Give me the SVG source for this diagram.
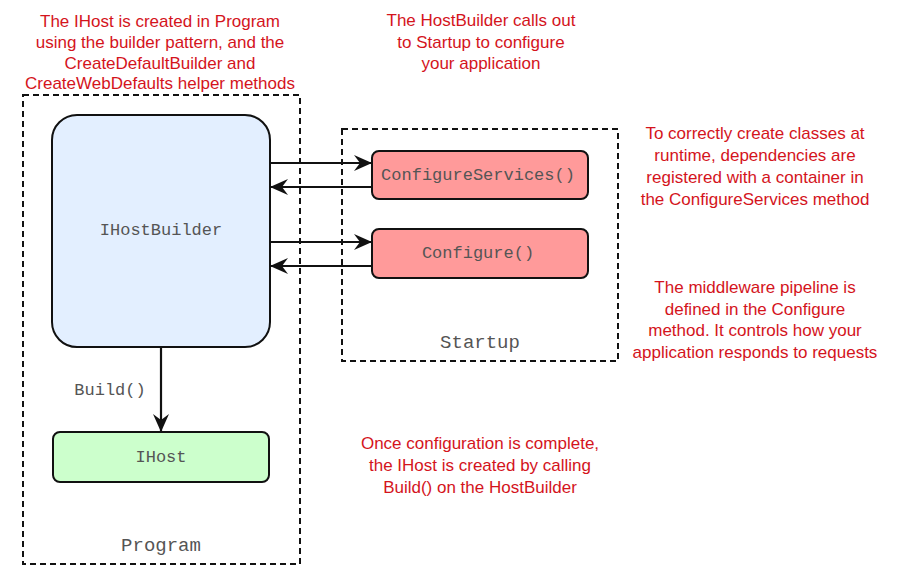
<svg xmlns="http://www.w3.org/2000/svg" width="908" height="576" viewBox="0 0 908 576">
<style>
.note{font-family:"Liberation Sans",Arial,sans-serif;font-size:17px;fill:#d4141c;text-anchor:middle}
.mono{font-family:"Liberation Mono","Courier New",monospace;font-size:17px;fill:#555;text-anchor:middle}
.big{font-size:19px}
.dash{fill:none;stroke:#111;stroke-width:2;stroke-dasharray:6 4}
.node{stroke:#111;stroke-width:2}
.edge{stroke:#111;stroke-width:2.2;fill:none}
</style>
<defs>
<marker id="ah" viewBox="0 0 18 16" refX="17" refY="8" markerWidth="18" markerHeight="16" markerUnits="userSpaceOnUse" orient="auto">
<path d="M0,0 L18,8 L0,16 L6,8 Z" fill="#111"/>
</marker>
</defs>
<rect width="908" height="576" fill="#fff"/>
<g id="program">
<rect class="dash" x="23" y="95" width="277" height="469"/>
<text class="mono big" x="161" y="551">Program</text>
</g>
<g id="startup">
<rect class="dash" x="342" y="129" width="276" height="232"/>
<text class="mono big" x="480" y="348">Startup</text>
</g>
<g id="ihostbuilder">
<rect class="node" x="52" y="115" width="218" height="232" rx="25" fill="#e3efff"/>
<text class="mono" x="161" y="235">IHostBuilder</text>
</g>
<g id="configureservices">
<rect class="node" x="372" y="151" width="216" height="48" rx="7" fill="#ff9a9a"/>
<text class="mono" x="478" y="180">ConfigureServices()</text>
</g>
<g id="configure">
<rect class="node" x="372" y="229" width="216" height="49" rx="7" fill="#ff9a9a"/>
<text class="mono" x="478" y="258">Configure()</text>
</g>
<g id="ihost">
<rect class="node" x="53" y="432" width="216" height="50" rx="7" fill="#ccffcc"/>
<text class="mono" x="161" y="462">IHost</text>
</g>
<g id="connectors">
<line class="edge" x1="270" y1="163" x2="371" y2="163" marker-end="url(#ah)"/>
<line class="edge" x1="372" y1="187" x2="271" y2="187" marker-end="url(#ah)"/>
<line class="edge" x1="270" y1="242" x2="371" y2="242" marker-end="url(#ah)"/>
<line class="edge" x1="372" y1="266" x2="271" y2="266" marker-end="url(#ah)"/>
<line class="edge" x1="161" y1="348" x2="161" y2="431" marker-end="url(#ah)"/>
<text class="mono" x="110" y="395">Build()</text>
</g>
<g id="notes">
<text class="note" x="160" y="27">The IHost is created in Program</text>
<text class="note" x="160" y="48">using the builder pattern, and the</text>
<text class="note" x="160" y="69">CreateDefaultBuilder and</text>
<text class="note" x="160" y="89">CreateWebDefaults helper methods</text>
<text class="note" x="481" y="26">The HostBuilder calls out</text>
<text class="note" x="481" y="48">to Startup to configure</text>
<text class="note" x="481" y="69">your application</text>
<text class="note" x="755" y="139">To correctly create classes at</text>
<text class="note" x="755" y="161">runtime, dependencies are</text>
<text class="note" x="755" y="183">registered with a container in</text>
<text class="note" x="755" y="205">the ConfigureServices method</text>
<text class="note" x="755" y="293">The middleware pipeline is</text>
<text class="note" x="755" y="315">defined in the Configure</text>
<text class="note" x="755" y="336">method. It controls how your</text>
<text class="note" x="755" y="358">application responds to requests</text>
<text class="note" x="480" y="449">Once configuration is complete,</text>
<text class="note" x="480" y="471">the IHost is created by calling</text>
<text class="note" x="480" y="493">Build() on the HostBuilder</text>
</g>
</svg>
